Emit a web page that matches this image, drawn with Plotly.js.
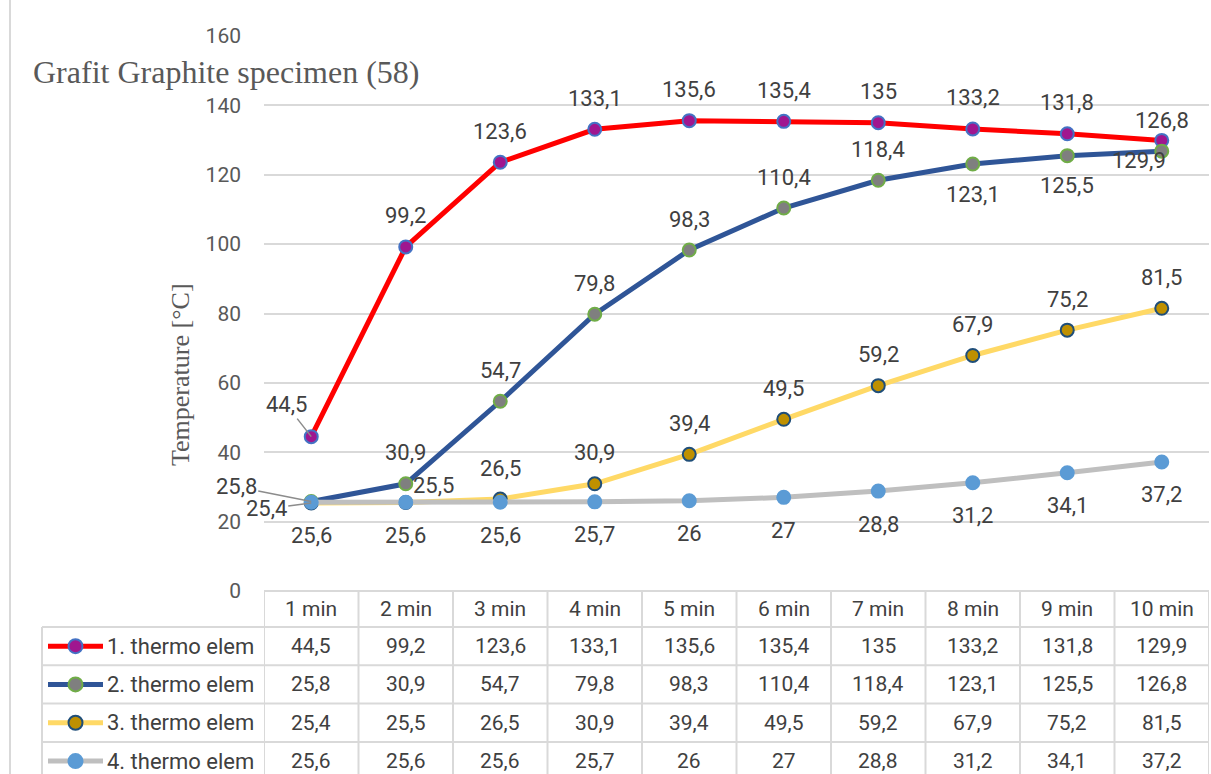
<!DOCTYPE html>
<html>
<head>
<meta charset="utf-8">
<script src="https://cdn.plot.ly/plotly-3.0.1.min.js"></script>
<style>html,body{margin:0;padding:0;background:#fff;}#chart{width:1211px;height:774px;}</style>
</head>
<body>
<div id="chart"></div>
<script>
// ---------- data ----------
const categories = ['1 min','2 min','3 min','4 min','5 min','6 min','7 min','8 min','9 min','10 min'];
const seriesNames = ['1. thermo elem','2. thermo elem','3. thermo elem','4. thermo elem'];
const thermo1 = [44.5, 99.2, 123.6, 133.1, 135.6, 135.4, 135, 133.2, 131.8, 129.9];
const thermo2 = [25.8, 30.9, 54.7, 79.8, 98.3, 110.4, 118.4, 123.1, 125.5, 126.8];
const thermo3 = [25.4, 25.5, 26.5, 30.9, 39.4, 49.5, 59.2, 67.9, 75.2, 81.5];
const thermo4 = [25.6, 25.6, 25.6, 25.7, 26, 27, 28.8, 31.2, 34.1, 37.2];
const yTicks = [0, 20, 40, 60, 80, 100, 120, 140, 160];
const chartTitle = 'Grafit Graphite specimen (58)';
const yTitle = 'Temperature [°C]';

// ---------- styles ----------
const W = 1211, H = 774;
const M = {l: 264, r: 2, t: 36, b: 183};
const plotH = H - M.t - M.b, plotW = W - M.l - M.r;
const py = p => (H - M.b - p) / plotH;     // pixel row -> paper y
const px = p => (p - M.l) / plotW;         // pixel column -> paper x

const series = [
  {y: thermo1, line: '#ff0000', fill: '#a0168f', edge: '#4472c4',
   dx: [-25,0,0,0,0,0,0,0,0,-23], dy: [32,31,31,31,31,31,31,31,31,-20], leader: [0]},
  {y: thermo2, line: '#2f5597', fill: '#7f7f7f', edge: '#70ad47',
   dx: [-75,0,0,0,0,0,0,0,0,0], dy: [15,31,31,31,31,31,31,-30,-30,31], leader: [0]},
  {y: thermo3, line: '#ffd966', fill: '#bf9000', edge: '#1f4e79',
   dx: [-45,28,0,0,0,0,0,0,0,0], dy: [-6,17,31,31,31,31,31,31,31,31], leader: [0]},
  {y: thermo4, line: '#bfbfbf', fill: '#5b9bd5', edge: '#5b9bd5',
   dx: [0,0,0,0,0,0,0,0,0,0], dy: [-33,-33,-33,-33,-33,-33,-33,-33,-33,-33], leader: []}
];

const fmt = v => String(v).replace('.', ',');
const labelFont = {family: 'Roboto, sans-serif', size: 22, color: '#404040'};
const tableFont = {family: 'Roboto, sans-serif', size: 21, color: '#404040'};
const legendFont = {family: 'Roboto, sans-serif', size: 22, color: '#404040'};
const gridC = '#d9d9d9';

const traces = series.map((s, k) => ({
  type: 'scatter', mode: 'lines+markers', x: categories, y: s.y, name: seriesNames[k],
  line: {color: s.line, width: 5},
  marker: {size: 13, color: s.fill, line: {color: s.edge, width: 2}},
  cliponaxis: false, hoverinfo: 'x+y'
}));

const annotations = [];
const shapes = [];

// data labels
series.forEach(s => {
  s.y.forEach((v, i) => {
    if (s.leader.includes(i)) {
      annotations.push({xref: 'x', yref: 'y', x: i, y: v, text: fmt(v), font: labelFont,
        showarrow: true, arrowhead: 0, arrowwidth: 1.5, arrowcolor: '#8c8c8c', standoff: 0,
        ax: s.dx[i], ay: -s.dy[i]});
    } else {
      annotations.push({xref: 'x', yref: 'y', x: i, y: v, text: fmt(v), font: labelFont,
        showarrow: false, xshift: s.dx[i], yshift: s.dy[i]});
    }
  });
});

// chart title & axis title
annotations.push({xref: 'paper', yref: 'paper', x: px(31), y: py(72), xanchor: 'left', yanchor: 'middle',
  text: chartTitle, showarrow: false, font: {family: 'Liberation Serif, Times New Roman, serif', size: 32, color: '#595959'}});
annotations.push({xref: 'paper', yref: 'paper', x: px(180), y: py(375), xanchor: 'center', yanchor: 'middle',
  textangle: -90, text: yTitle, showarrow: false, font: {family: 'Liberation Serif, Times New Roman, serif', size: 26, color: '#595959'}});

// ---------- data table ----------
const tableTop = 591, headerBottom = 627, rowH = 38.3;
const rowCenter = r => headerBottom + rowH * (r + 0.5);
const line = (x0, y0, x1, y1, xref) => ({type: 'line', xref: xref, yref: 'paper', x0, x1, y0, y1,
  line: {color: gridC, width: 2}, layer: 'below'});

// horizontal borders
shapes.push(line(px(264), py(tableTop), 1, py(tableTop), 'paper'));
for (let r = 0; r <= 4; r++) {
  const yy = headerBottom + rowH * r;
  shapes.push(line(px(42), py(yy), 1, py(yy), 'paper'));
}
// vertical borders
for (let i = 0; i <= categories.length; i++) {
  shapes.push(line(i - 0.5, py(tableTop), i - 0.5, py(H + 5), 'x'));
}
shapes.push(line(px(42), py(headerBottom), px(42), py(H + 5), 'paper'));
// outer chart border
shapes.push(line(px(10), py(-5), px(10), py(H + 5), 'paper'));

// header
categories.forEach((c, i) => annotations.push({xref: 'x', yref: 'paper', x: i, y: py(609),
  text: c, showarrow: false, font: tableFont, yanchor: 'middle'}));
// rows
series.forEach((s, k) => {
  const yc = py(rowCenter(k));
  s.y.forEach((v, i) => annotations.push({xref: 'x', yref: 'paper', x: i, y: yc,
    text: fmt(v), showarrow: false, font: tableFont, yanchor: 'middle'}));
  annotations.push({xref: 'paper', yref: 'paper', x: px(105), y: yc, xanchor: 'left', yanchor: 'middle',
    text: seriesNames[k], showarrow: false, font: legendFont});
  shapes.push({type: 'line', xref: 'paper', yref: 'paper', x0: px(48), x1: px(103), y0: yc, y1: yc,
    line: {color: s.line, width: 5}});
  shapes.push({type: 'circle', xref: 'paper', yref: 'paper', xsizemode: 'pixel', ysizemode: 'pixel',
    xanchor: px(75.5), yanchor: yc, x0: -7, x1: 7, y0: -7, y1: 7,
    fillcolor: s.fill, line: {color: s.edge, width: 2}});
});

const layout = {
  width: W, height: H, margin: M,
  paper_bgcolor: '#ffffff', plot_bgcolor: '#ffffff',
  showlegend: false,
  xaxis: {type: 'category', range: [-0.5, 9.5], showticklabels: false, showgrid: false,
    zeroline: false, showline: false, ticks: '', fixedrange: true},
  yaxis: {range: [0, 160], tickvals: yTicks, ticktext: yTicks.map(String), showgrid: true,
    gridcolor: gridC, gridwidth: 2, zeroline: false, showline: false, ticks: '',
    ticklabelstandoff: 22,
    tickfont: {family: 'Roboto, sans-serif', size: 21, color: '#595959'}, fixedrange: true},
  annotations, shapes
};

Plotly.newPlot('chart', traces, layout, {displayModeBar: false, staticPlot: true});
</script>
</body>
</html>
